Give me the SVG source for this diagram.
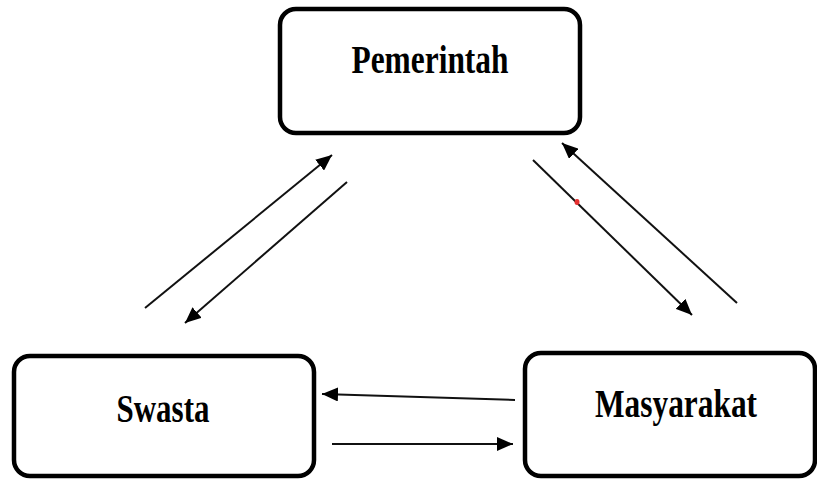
<svg xmlns="http://www.w3.org/2000/svg" width="817" height="480" viewBox="0 0 817 480">
<style>
.box{fill:#fff;stroke:#000;stroke-width:4.5}
.lbl{font-family:"Liberation Serif","Times New Roman",serif;font-weight:bold;font-size:40px;fill:#000;text-anchor:middle}
.ln{stroke:#111;stroke-width:2;fill:none;marker-end:url(#ah)}
</style>
<defs>
<marker id="ah" markerUnits="userSpaceOnUse" markerWidth="18" markerHeight="14" refX="16" refY="7" orient="auto">
<path d="M0,0 L16,7 L0,14 z" fill="#000"/>
</marker>
</defs>
<rect width="817" height="480" fill="#fff"/>
<g id="pemerintah">
<rect class="box" x="280" y="9" width="300" height="124" rx="16"/>
<text class="lbl" x="430" y="73" textLength="157" lengthAdjust="spacingAndGlyphs">Pemerintah</text>
</g>
<g id="swasta">
<rect class="box" x="14" y="356" width="300" height="120" rx="16"/>
<text class="lbl" x="163" y="422" textLength="93" lengthAdjust="spacingAndGlyphs">Swasta</text>
</g>
<g id="masyarakat">
<rect class="box" x="525" y="353" width="290" height="123" rx="16"/>
<text class="lbl" x="676" y="417" textLength="162" lengthAdjust="spacingAndGlyphs">Masyarakat</text>
</g>
<g id="connectors">
<line class="ln" x1="145" y1="308" x2="332" y2="155"/>
<line class="ln" x1="347" y1="182" x2="185" y2="323"/>
<line class="ln" x1="533" y1="160" x2="692" y2="315"/>
<line class="ln" x1="737" y1="303" x2="562" y2="143"/>
<line class="ln" x1="515" y1="400" x2="322" y2="394"/>
<line class="ln" x1="332" y1="444" x2="513" y2="444"/>
</g>
<ellipse cx="577" cy="202" rx="2.5" ry="3" fill="#e53030"/>
</svg>
